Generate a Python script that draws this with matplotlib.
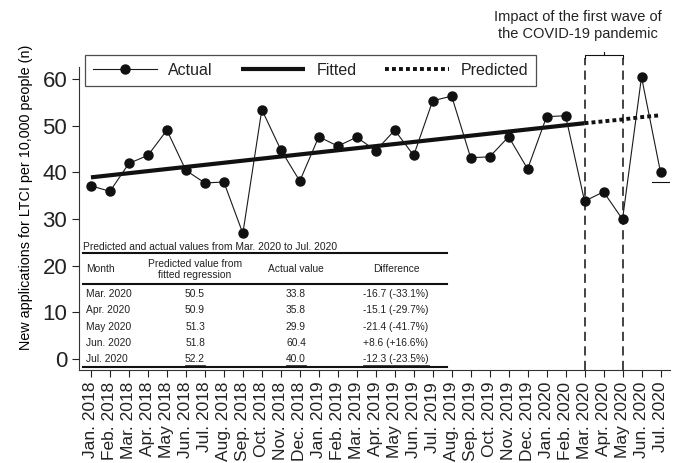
import numpy as np
import matplotlib
matplotlib.use("Agg")
from matplotlib import pyplot as plt
from matplotlib.lines import Line2D

plt.rcParams['font.family'] = ['Liberation Sans', 'DejaVu Sans']
plt.rcParams['text.color'] = '#222222'

months = ["Jan. 2018", "Feb. 2018", "Mar. 2018", "Apr. 2018", "May 2018", "Jun. 2018",
          "Jul. 2018", "Aug. 2018", "Sep. 2018", "Oct. 2018", "Nov. 2018", "Dec. 2018",
          "Jan. 2019", "Feb. 2019", "Mar. 2019", "Apr. 2019", "May 2019", "Jun. 2019",
          "Jul. 2019", "Aug. 2019", "Sep. 2019", "Oct. 2019", "Nov. 2019", "Dec. 2019",
          "Jan. 2020", "Feb. 2020", "Mar. 2020", "Apr. 2020", "May 2020", "Jun. 2020",
          "Jul. 2020"]
actual = [37.1, 35.9, 41.9, 43.6, 49.0, 40.4, 37.7, 37.9, 26.9, 53.4, 44.8, 38.1,
          47.6, 45.6, 47.5, 44.6, 49.0, 43.6, 55.3, 56.3, 43.1, 43.3, 47.6, 40.7,
          51.9, 52.1, 33.8, 35.8, 29.9, 60.4, 40.0]
fitted_start = 38.9
# regression prediction for Mar. 2020 - Jul. 2020
pred_months = ["Mar. 2020", "Apr. 2020", "May 2020", "Jun. 2020", "Jul. 2020"]
predicted = [50.5, 50.9, 51.3, 51.8, 52.2]
pred_actual = [33.8, 35.8, 29.9, 60.4, 40.0]
differences = ["-16.7 (-33.1%)", "-15.1 (-29.7%)", "-21.4 (-41.7%)",
               "+8.6 (+16.6%)", "-12.3 (-23.5%)"]
jul_mark = 38.0

W, H = 677, 463
fig = plt.figure(figsize=(W / 100, H / 100), dpi=100)
ax = fig.add_axes([79 / W, 1 - 370 / H, (670 - 79) / W, (370 - 66.7) / H])

def fpos(px, py):
    # pixel position -> figure fraction
    return px / W, 1 - py / H

x = np.arange(len(months))
n_fit = len(months) - len(predicted)

ax.plot(x, actual, color='#1a1a1a', lw=0.8, marker='o', ms=6.5,
        mfc='#111111', mec='#111111', zorder=4, label='Actual')
ax.plot([0, n_fit], [fitted_start, predicted[0]], color='#111111', lw=3,
        solid_capstyle='butt', zorder=3, label='Fitted')
ax.plot(x[n_fit:], predicted, color='#111111', lw=2.8, dashes=(1, 0.8),
        zorder=3, label='Predicted')
ax.plot([x[-1] - 0.45, x[-1] + 0.45], [jul_mark, jul_mark], color='#111111', lw=0.8)

ax.set_xlim(-0.63, 30.5)
ax.set_ylim(-2.36, 62.6)

# first wave box: dashed sides with a bracket on top
x0, x1 = n_fit, n_fit + 2
y_top, y_corner = 65.1, 64.4
for xv in (x0, x1):
    ax.plot([xv, xv], [-2.36, y_corner], color='#111111', lw=1.1,
            dashes=(6, 3.5), clip_on=False, zorder=2)
ax.plot([x0, x0, x1, x1], [y_corner, y_top, y_top, y_corner], color='#111111',
        lw=0.8, clip_on=False)
ax.plot([(x0 + x1) / 2] * 2, [y_top, y_top + 0.6], color='#111111', lw=0.8,
        clip_on=False)
fig.text(*fpos(578, 25.5), "Impact of the first wave of\nthe COVID-19 pandemic",
         ha='center', va='center', fontsize=10.5, linespacing=1.25)

ax.set_xticks(x)
ax.set_xticklabels(months, rotation=90, fontsize=12.5)
ax.set_yticks([0, 10, 20, 30, 40, 50, 60])
ax.tick_params(axis='y', labelsize=16, length=5, width=0.8, colors='#222222')
ax.tick_params(axis='x', length=5, width=0.8, colors='#222222')
for s in ('top', 'right'):
    ax.spines[s].set_visible(False)
for s in ('left', 'bottom'):
    ax.spines[s].set_linewidth(0.8)
    ax.spines[s].set_color('#333333')
ax.set_ylabel("New applications for LTCI per 10,000 people (n)", fontsize=10.4)
ax.yaxis.set_label_coords(-0.078, 0.57)

leg = ax.legend(loc='upper left', bbox_to_anchor=fpos(85, 55),
                bbox_transform=fig.transFigure, ncol=3, fontsize=11.5,
                handlelength=4, handletextpad=0.7, columnspacing=1.8,
                borderpad=0.5, borderaxespad=0, fancybox=False)
leg.get_frame().set_edgecolor('#222222')
leg.get_frame().set_linewidth(0.9)

# results table in the lower left
tfs = 7.4
lx0, lx1 = 83, 447
col_month, col_pred, col_act, col_diff = 86, 195, 296, 396
fig.text(*fpos(lx0, 247.5), "Predicted and actual values from Mar. 2020 to Jul. 2020",
         fontsize=tfs, va='center')
for ly in (253.3, 284.3, 366.5):
    fig.add_artist(Line2D([lx0 / W, lx1 / W], [1 - ly / H] * 2, color='#111111', lw=1.5))
fig.text(*fpos(col_month, 269.5), "Month", fontsize=tfs, va='center')
fig.text(*fpos(col_pred, 269.5), "Predicted value from\nfitted regression", fontsize=tfs,
         va='center', ha='center', linespacing=1.2)
fig.text(*fpos(col_act, 269.5), "Actual value", fontsize=tfs, va='center', ha='center')
fig.text(*fpos(col_diff, 269.5), "Difference", fontsize=tfs, va='center', ha='center')
underlined = []
for i, m in enumerate(pred_months):
    ry = 293.8 + 16.4 * i
    fig.text(*fpos(col_month, ry), m, fontsize=tfs, va='center')
    t1 = fig.text(*fpos(col_pred, ry), f"{predicted[i]:.1f}", fontsize=tfs,
                  va='center', ha='center')
    t2 = fig.text(*fpos(col_act, ry), f"{pred_actual[i]:.1f}", fontsize=tfs,
                  va='center', ha='center')
    t3 = fig.text(*fpos(col_diff, ry), differences[i], fontsize=tfs,
                  va='center', ha='center')
    if i == len(pred_months) - 1:
        underlined = [t1, t2, t3]

fig.canvas.draw()
for t in underlined:
    bb = t.get_window_extent().transformed(fig.transFigure.inverted())
    fig.add_artist(Line2D([bb.x0, bb.x1], [bb.y0 - 0.001] * 2, color='#222222', lw=0.6))

fig.savefig("out.png", dpi=100, facecolor='white')
